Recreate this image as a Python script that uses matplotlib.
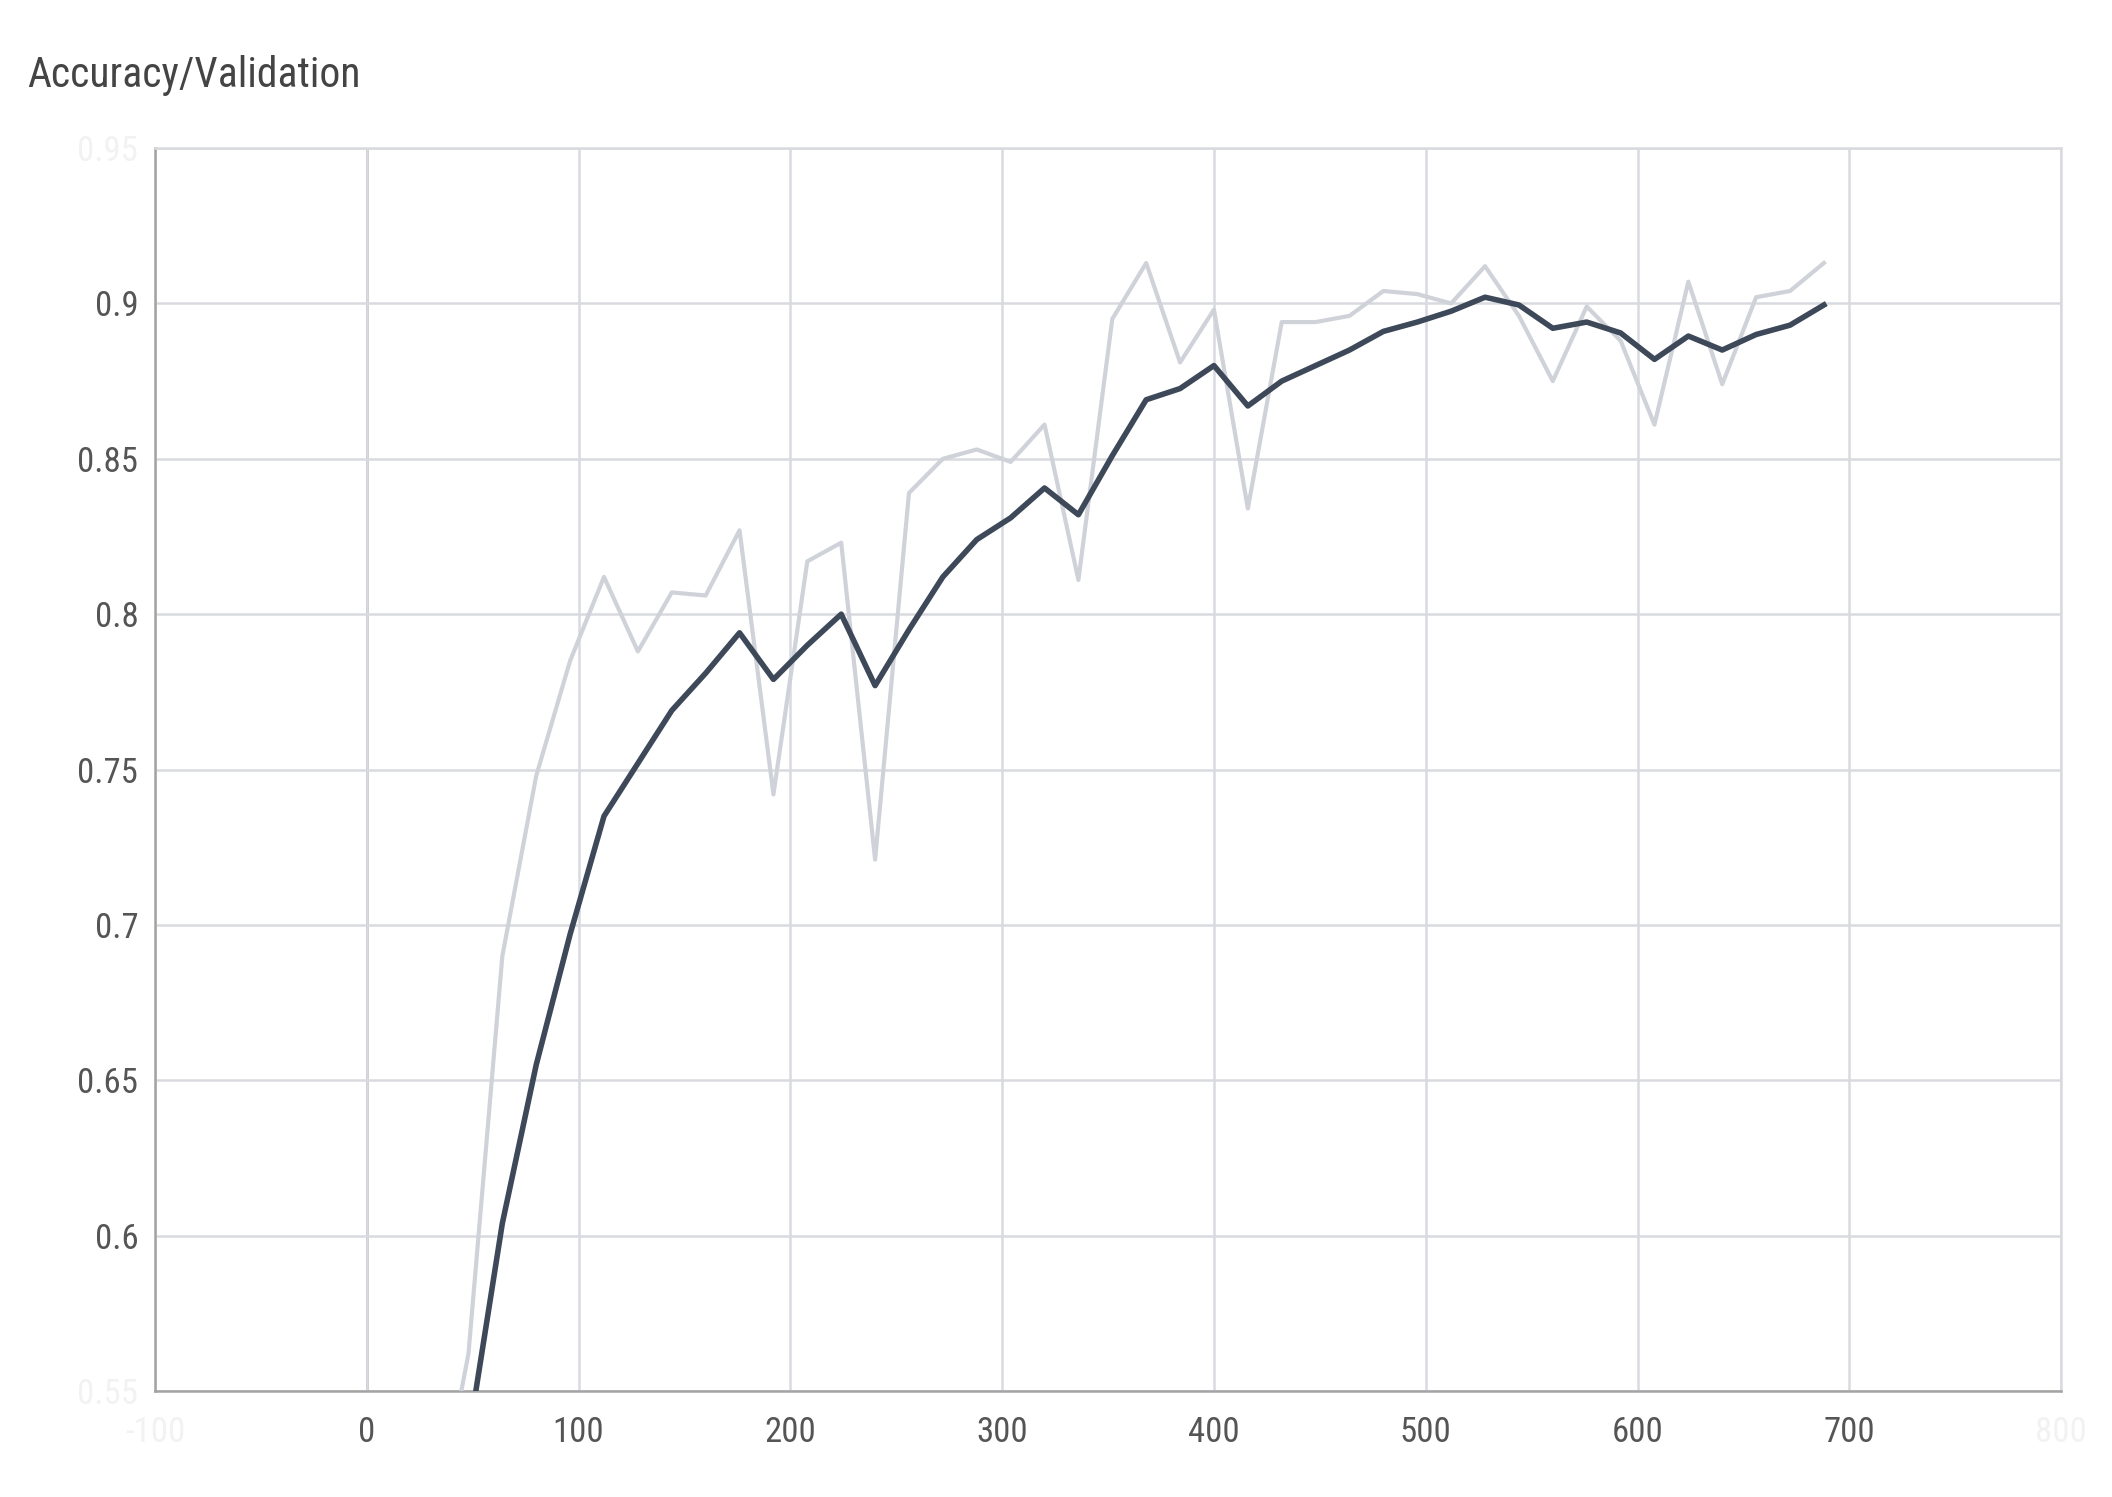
import matplotlib

matplotlib.use("Agg")
import matplotlib.pyplot as plt

plt.rcParams["font.family"] = ["Roboto Condensed", "Roboto", "DejaVu Sans"]

# step values (every 16 steps)
steps = [32, 48, 64, 80, 96, 112, 128, 144, 160, 176, 192, 208, 224, 240, 256,
         272, 288, 304, 320, 336, 352, 368, 384, 400, 416, 432, 448, 464, 480,
         496, 512, 528, 544, 560, 576, 592, 608, 624, 640, 656, 672, 688]

# raw validation accuracy (light line)
acc_raw = [0.505, 0.562, 0.690, 0.748, 0.785, 0.812, 0.788, 0.807, 0.806, 0.827,
           0.742, 0.817, 0.823, 0.721, 0.839, 0.850, 0.853, 0.849, 0.861, 0.811,
           0.895, 0.913, 0.881, 0.898, 0.834, 0.894, 0.894, 0.896, 0.904, 0.903,
           0.900, 0.912, 0.896, 0.875, 0.899, 0.888, 0.861, 0.907, 0.874, 0.902,
           0.904, 0.913]

# smoothed validation accuracy (dark line)
acc_smooth = [0.500, 0.535, 0.604, 0.655, 0.697, 0.735, 0.752, 0.769, 0.781, 0.794,
              0.779, 0.790, 0.800, 0.777, 0.795, 0.812, 0.824, 0.831, 0.8406, 0.832,
              0.851, 0.869, 0.8726, 0.880, 0.867, 0.875, 0.880, 0.885, 0.891, 0.894,
              0.8975, 0.902, 0.8995, 0.892, 0.894, 0.8905, 0.882, 0.8895, 0.885, 0.890,
              0.893, 0.8995]

x_ticks = [-100, 0, 100, 200, 300, 400, 500, 600, 700, 800]
x_labels = ["-100", "0", "100", "200", "300", "400", "500", "600", "700", "800"]
y_ticks = [0.55, 0.6, 0.65, 0.7, 0.75, 0.8, 0.85, 0.9, 0.95]
y_labels = ["0.55", "0.6", "0.65", "0.7", "0.75", "0.8", "0.85", "0.9", "0.95"]

grid_col = "#d8dadf"
axis_col = "#a3a3a3"
label_col = "#555555"
faint_col = "#f2f2f2"

fig = plt.figure(figsize=(21.12, 14.97), dpi=100)
ax = fig.add_axes([0.0734, 0.0708, 0.9025, 0.8303])

ax.plot(steps, acc_raw, color="#cfd2d9", linewidth=3.0, zorder=3)
ax.plot(steps, acc_smooth, color="#3d4859", linewidth=4.0, zorder=4)

ax.set_xlim(-100, 800)
ax.set_ylim(0.55, 0.95)
ax.set_xticks(x_ticks)
ax.set_xticklabels(x_labels)
ax.set_yticks(y_ticks)
ax.set_yticklabels(y_labels)
ax.grid(True, color=grid_col, linewidth=1.8, zorder=0)
ax.axvline(0, color=axis_col, linewidth=1.8, zorder=1)

ax.tick_params(length=0, labelsize=25, labelcolor=label_col)
ax.tick_params(axis="x", pad=18)
ax.tick_params(axis="y", pad=12)

# edge tick labels are faded out, as in the original
for lbl in (ax.get_xticklabels()[0], ax.get_xticklabels()[-1],
            ax.get_yticklabels()[0], ax.get_yticklabels()[-1]):
    lbl.set_color(faint_col)

for side in ("left", "bottom"):
    ax.spines[side].set_color(axis_col)
    ax.spines[side].set_linewidth(1.8)
for side in ("top", "right"):
    ax.spines[side].set_color(grid_col)
    ax.spines[side].set_linewidth(1.8)

fig.text(0.0128, 0.942, "Accuracy/Validation", fontsize=30, color="#444444",
         ha="left", va="baseline")

fig.savefig("out.png", dpi=100, facecolor="white")
plt.close(fig)
